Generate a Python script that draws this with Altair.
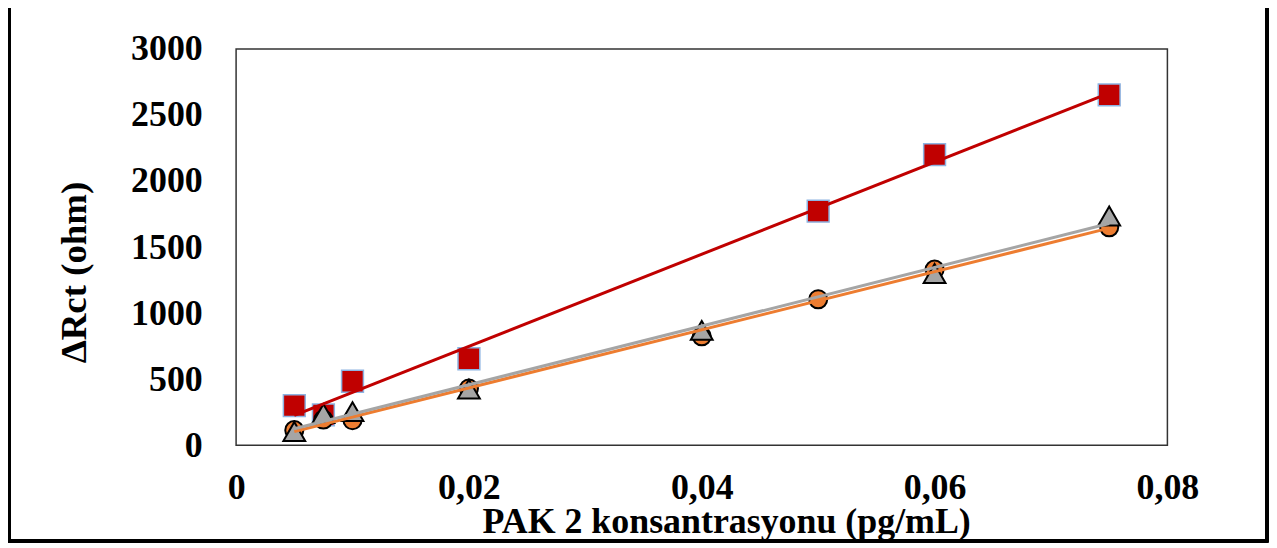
import altair as alt
import pandas as pd

# Series values
sq_x = [0.005, 0.0075, 0.01, 0.02, 0.05, 0.06, 0.075]
sq_y = [300, 230, 485, 655, 1772, 2200, 2652]

ci_x = [0.005, 0.0075, 0.01, 0.02, 0.04, 0.05, 0.06, 0.075]
ci_y = [115, 195, 190, 430, 825, 1105, 1330, 1650]

tr_x = [0.005, 0.0075, 0.01, 0.02, 0.04, 0.06, 0.075]
tr_y = [105, 240, 255, 425, 870, 1300, 1735]

x_ticks = [0, 0.02, 0.04, 0.06, 0.08]
y_ticks = [0, 500, 1000, 1500, 2000, 2500, 3000]

FONT = "'Liberation Serif', 'Times New Roman', Times, serif"

df = pd.concat([
    pd.DataFrame({"x": sq_x, "y": sq_y, "s": "A"}),
    pd.DataFrame({"x": ci_x, "y": ci_y, "s": "B"}),
    pd.DataFrame({"x": tr_x, "y": tr_y, "s": "C"}),
], ignore_index=True)

xs = alt.Scale(domain=[0, 0.08], nice=False, zero=False)
ys = alt.Scale(domain=[0, 3000], nice=False)

xax = alt.Axis(
    values=x_ticks, grid=False, ticks=False, domain=False,
    labelExpr="datum.value == 0 ? '0' : replace(format(datum.value, '.2f'), '.', ',')",
    labelFont=FONT, labelFontWeight="bold", labelFontSize=36, labelColor="black",
    labelBaseline="alphabetic", labelPadding=53, labelFlush=False, labelOverlap=False,
    title="PAK 2 konsantrasyonu (pg/mL)", titleFont=FONT, titleFontWeight="bold",
    titleFontSize=36, titleColor="black", titleX=492, titleY=88,
    titleBaseline="alphabetic", titleAlign="center",
)
yax = alt.Axis(
    values=y_ticks, grid=False, ticks=False, domain=False, format="d",
    labelFont=FONT, labelFontWeight="bold", labelFontSize=36, labelColor="black",
    labelPadding=34, labelFlush=False, labelOverlap=False,
    title="ΔRct (ohm)", titleFont=FONT, titleFontWeight="bold",
    titleFontSize=37, titleColor="black", titleX=-162, titleY=224,
    titleAngle=270, titleBaseline="middle", titleAlign="center",
)

base = alt.Chart(df)
X = alt.X("x:Q", scale=xs, axis=xax)
Y = alt.Y("y:Q", scale=ys, axis=yax)
Xn = alt.X("x:Q", scale=xs)
Yn = alt.Y("y:Q", scale=ys)

squares = base.transform_filter("datum.s == 'A'").mark_point(
    shape="square", filled=True, size=480, color="#C00000",
    stroke="#8DB4E2", strokeWidth=1.5, opacity=1
).encode(x=X, y=Y)

circles = base.transform_filter("datum.s == 'B'").mark_point(
    shape="circle", filled=True, size=330, color="#ED7D31",
    stroke="black", strokeWidth=2, opacity=1
).encode(x=Xn, y=Yn)

triangles = base.transform_filter("datum.s == 'C'").mark_point(
    shape="triangle-up", filled=True, size=480, color="#A5A5A5",
    stroke="black", strokeWidth=2, opacity=1
).encode(x=Xn, y=Yn)

def trend(series, color):
    return base.transform_filter(f"datum.s == '{series}'").transform_regression(
        "x", "y", method="linear"
    ).mark_line(color=color, strokeWidth=3).encode(x=Xn, y=Yn)

frame = base.mark_rect(
    fillOpacity=0, stroke="black", strokeWidth=2.5
).encode(
    x=alt.value(-228), x2=alt.value(1035), y=alt.value(-60), y2=alt.value(494)
)

chart = alt.layer(
    squares, circles, triangles,
    trend("A", "#C00000"), trend("B", "#ED7D31"), trend("C", "#A5A5A5"),
    frame,
).properties(
    width=935, height=398,
    autosize="none",
    padding={"left": 229, "top": 40, "right": 102, "bottom": 98},
    background="white",
).configure_view(stroke="#333333", strokeWidth=1.5)

chart.save("out.html", embed_options={"renderer": "svg", "actions": False})
